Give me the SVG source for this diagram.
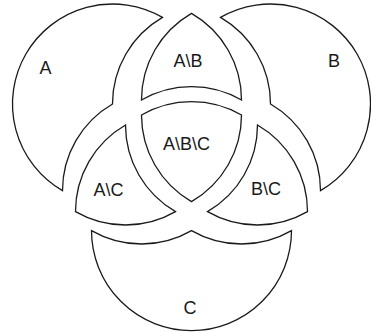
<svg xmlns="http://www.w3.org/2000/svg" width="371" height="333" viewBox="0 0 371 333">
<style>
.r{fill:#fff;stroke:#1a1a1a;stroke-width:1.3;stroke-linejoin:miter}
.t{font-family:"Liberation Sans",Arial,sans-serif;font-size:18px;fill:#1a1a1a;text-anchor:middle}
</style>
<rect width="371" height="333" fill="#fff"/>
<g id="connectors"/>
<g id="A-only" transform="translate(-29,-11)">
<path class="r" d="M191.5,28.397 A100,100 0 0 0 54.897,65 A100,100 0 0 0 91.5,201.603 A100,100 0 0 1 141.5,115 A100,100 0 0 1 191.5,28.397 Z"/>
</g>
<g id="B-only" transform="translate(29,-11)">
<path class="r" d="M191.5,28.397 A100,100 0 0 1 328.103,65 A100,100 0 0 1 291.5,201.603 A100,100 0 0 0 241.5,115 A100,100 0 0 0 191.5,28.397 Z"/>
</g>
<g id="C-only" transform="translate(0,29)">
<path class="r" d="M291.5,201.603 A100,100 0 0 1 191.5,301.603 A100,100 0 0 1 91.5,201.603 A100,100 0 0 0 191.5,201.603 A100,100 0 0 0 291.5,201.603 Z"/>
</g>
<g id="AB" transform="translate(0,-15)">
<path class="r" d="M191.5,28.397 A100,100 0 0 1 241.5,115 A100,100 0 0 0 141.5,115 A100,100 0 0 1 191.5,28.397 Z"/>
</g>
<g id="AC" transform="translate(-16,10)">
<path class="r" d="M141.5,115 A100,100 0 0 0 191.5,201.603 A100,100 0 0 1 91.5,201.603 A100,100 0 0 1 141.5,115 Z"/>
</g>
<g id="BC" transform="translate(16,10)">
<path class="r" d="M241.5,115 A100,100 0 0 1 291.5,201.603 A100,100 0 0 1 191.5,201.603 A100,100 0 0 0 241.5,115 Z"/>
</g>
<g id="ABC">
<path class="r" d="M141.5,115 A100,100 0 0 1 241.5,115 A100,100 0 0 1 191.5,201.603 A100,100 0 0 1 141.5,115 Z"/>
</g>
<g id="labels">
<text class="t" x="45.5" y="74">A</text>
<text class="t" x="334" y="67">B</text>
<text class="t" x="190" y="314">C</text>
<text class="t" x="188" y="67">A\B</text>
<text class="t" x="186.5" y="150">A\B\C</text>
<text class="t" x="108.5" y="196">A\C</text>
<text class="t" x="266" y="195">B\C</text>
</g>
</svg>
